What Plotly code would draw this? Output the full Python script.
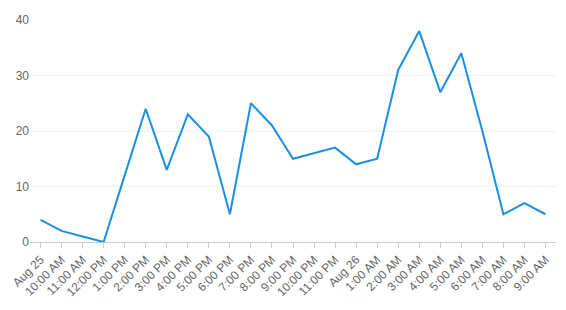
import plotly.graph_objects as go

labels = ["Aug 25", "10:00 AM", "11:00 AM", "12:00 PM", "1:00 PM", "2:00 PM", "3:00 PM",
          "4:00 PM", "5:00 PM", "6:00 PM", "7:00 PM", "8:00 PM", "9:00 PM", "10:00 PM",
          "11:00 PM", "Aug 26", "1:00 AM", "2:00 AM", "3:00 AM", "4:00 AM", "5:00 AM",
          "6:00 AM", "7:00 AM", "8:00 AM", "9:00 AM"]
values = [4, 2, 1, 0, 12, 24, 13, 23, 19, 5, 25, 21, 15, 16, 17, 14, 15, 31, 38, 27, 34, 20, 5, 7, 5]
y_ticks = [0, 10, 20, 30, 40]

fig = go.Figure(go.Scatter(
    x=list(range(len(labels))), y=values, mode="lines",
    line=dict(color="#1a90e4", width=2), hoverinfo="skip"))

fig.update_layout(
    width=566, height=310,
    margin=dict(l=30, r=10, t=20, b=68),
    paper_bgcolor="white", plot_bgcolor="white",
    showlegend=False,
    font=dict(family="Liberation Sans, Arial, sans-serif", size=12, color="#666666"),
    xaxis=dict(
        tickmode="array", tickvals=list(range(len(labels))), ticktext=labels,
        range=[-0.5, len(labels) - 0.5], tickangle=-45,
        showline=True, linecolor="#cccccc", linewidth=1,
        ticks="outside", ticklen=5, tickcolor="#cccccc",
        showgrid=False, zeroline=False, fixedrange=True,
        tickfont=dict(size=12, color="#666666")),
    yaxis=dict(
        range=[0, 40], tickvals=y_ticks,
        showgrid=True, gridcolor="#f0f0f0", gridwidth=1,
        zeroline=False, showline=False, ticks="", fixedrange=True,
        tickfont=dict(size=12, color="#666666")),
)

fig.write_html("out.html")
